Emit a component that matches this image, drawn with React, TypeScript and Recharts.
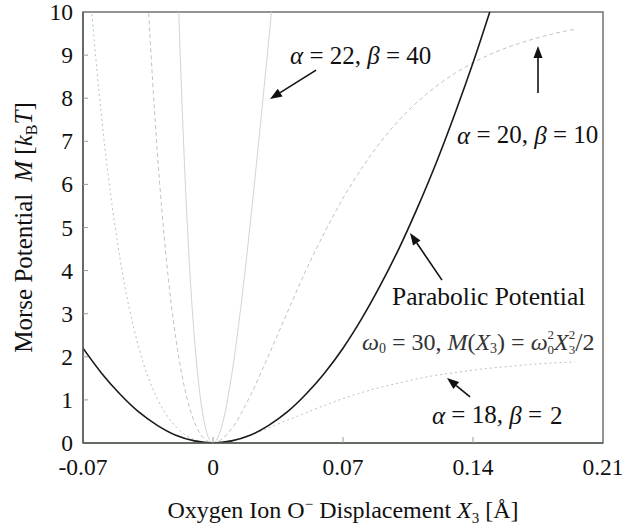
import {
  LineChart,
  Line,
  XAxis,
  YAxis,
  ReferenceArea,
  ReferenceLine,
  ReferenceDot,
} from "recharts";

const SERIF = '"Liberation Serif", "Times New Roman", serif';

const xTicks = [-0.07, 0, 0.07, 0.14, 0.21];
const yTicks = [0, 1, 2, 3, 4, 5, 6, 7, 8, 9, 10];

// parabolic potential, omega0 = 30
const parabolaX = [-0.07, -0.06, -0.05, -0.04, -0.03, -0.02, -0.01, 0, 0.01, 0.02, 0.03, 0.04, 0.05, 0.06, 0.07, 0.08, 0.09, 0.1, 0.11, 0.12, 0.13, 0.14, 0.15];
const parabolaM = [2.2, 1.62, 1.13, 0.72, 0.41, 0.18, 0.05, 0, 0.05, 0.18, 0.41, 0.72, 1.13, 1.62, 2.2, 2.88, 3.65, 4.5, 5.45, 6.48, 7.61, 8.82, 10.13];

// morse alpha = 22, beta = 40
const morse22X = [-0.019, -0.018, -0.015, -0.012, -0.009, -0.006, -0.003, 0, 0.005, 0.01, 0.015, 0.02, 0.025, 0.03, 0.033];
const morse22M = [10.78, 9.44, 6.12, 3.65, 1.92, 0.8, 0.19, 0, 0.43, 1.56, 3.16, 5.07, 7.16, 9.34, 10.66];

// morse alpha = 20, beta = 10
const morse20X = [-0.036, -0.035, -0.03, -0.025, -0.02, -0.015, -0.01, -0.005, 0, 0.01, 0.02, 0.03, 0.04, 0.05, 0.06, 0.07, 0.08, 0.09, 0.1, 0.11, 0.12, 0.13, 0.14, 0.15, 0.16, 0.17, 0.18, 0.19, 0.195];
const morse20M = [11.11, 10.28, 6.76, 4.21, 2.42, 1.22, 0.49, 0.11, 0, 0.33, 1.09, 2.04, 3.03, 4.0, 4.88, 5.68, 6.37, 6.97, 7.48, 7.91, 8.27, 8.57, 8.82, 9.03, 9.2, 9.34, 9.46, 9.56, 9.6];

// morse alpha = 18, beta = 2
const morse18X = [-0.066, -0.065, -0.06, -0.05, -0.04, -0.03, -0.02, -0.01, 0, 0.01, 0.02, 0.03, 0.04, 0.05, 0.06, 0.07, 0.08, 0.09, 0.1, 0.11, 0.12, 0.13, 0.14, 0.15, 0.16, 0.17, 0.18, 0.19, 0.195];
const morse18M = [10.41, 9.87, 7.57, 4.26, 2.22, 1.03, 0.38, 0.08, 0, 0.05, 0.18, 0.35, 0.53, 0.7, 0.87, 1.03, 1.17, 1.29, 1.39, 1.49, 1.57, 1.63, 1.69, 1.74, 1.78, 1.82, 1.85, 1.87, 1.88];

const toRows = (xs: number[], ms: number[]) => xs.map((x, i) => ({ x, m: ms[i] }));

const parabolaData = toRows(parabolaX, parabolaM);
const morse22Data = toRows(morse22X, morse22M);
const morse20Data = toRows(morse20X, morse20M);
const morse18Data = toRows(morse18X, morse18M);

function XTick({ x, y, payload }: any) {
  const v = payload.value;
  const inner = v > -0.07 && v < 0.21;
  return (
    <g>
      {inner && <line x1={x} y1={y} x2={x} y2={y - 6} stroke="#9a9a9a" />}
      <text x={x} y={y + 32} textAnchor="middle" fontSize={23.5} fontFamily={SERIF} fill="#111">
        {String(v)}
      </text>
    </g>
  );
}

function YTick({ x, y, payload }: any) {
  const v = payload.value;
  const inner = v > 0 && v < 10;
  return (
    <g>
      {inner && <line x1={x} y1={y} x2={x + 5} y2={y} stroke="#9a9a9a" />}
      <text x={x - 10} y={y + 8} textAnchor="end" fontSize={23.5} fontFamily={SERIF} fill="#111">
        {String(v)}
      </text>
    </g>
  );
}

function XTitle({ viewBox }: any) {
  const cx = viewBox.x + viewBox.width / 2;
  const y = viewBox.y + 75;
  return (
    <text x={cx} y={y} textAnchor="middle" fontSize={24} fontFamily={SERIF} fill="#111">
      Oxygen Ion O
      <tspan dy={-9} fontSize={15}>−</tspan>
      <tspan dy={9}> Displacement </tspan>
      <tspan fontStyle="italic">X</tspan>
      <tspan dy={5} fontSize={15}>3</tspan>
      <tspan dy={-5}> [Å]</tspan>
    </text>
  );
}

function YTitle({ viewBox }: any) {
  const cx = viewBox.x + 32;
  const cy = viewBox.y + viewBox.height / 2;
  return (
    <text
      x={cx}
      y={cy}
      transform={`rotate(-90, ${cx}, ${cy})`}
      textAnchor="middle"
      fontSize={25}
      fontFamily={SERIF}
      fill="#111"
    >
      Morse Potential
      <tspan dx={12} fontStyle="italic">M</tspan>
      <tspan> [</tspan>
      <tspan fontStyle="italic">k</tspan>
      <tspan dy={5} fontSize={16}>B</tspan>
      <tspan dy={-5} fontStyle="italic">T</tspan>
      <tspan>]</tspan>
    </text>
  );
}

function arrowShape(props: any) {
  const { x1, y1, x2, y2 } = props;
  const dx = x2 - x1;
  const dy = y2 - y1;
  const len = Math.hypot(dx, dy) || 1;
  const ux = dx / len;
  const uy = dy / len;
  const L = 12;
  const W = 4.5;
  const bx = x2 - ux * L;
  const by = y2 - uy * L;
  const pts = `${x2},${y2} ${bx - uy * W},${by + ux * W} ${bx + uy * W},${by - ux * W}`;
  return (
    <g>
      <line x1={x1} y1={y1} x2={bx} y2={by} stroke="#111" strokeWidth={1.6} />
      <polygon points={pts} fill="#111" />
    </g>
  );
}

const textShape = (content: any, size = 25, color = "#111") => (props: any) => (
  <text
    x={props.cx}
    y={props.cy}
    dominantBaseline="central"
    fontSize={size}
    fontFamily={SERIF}
    fill={color}
  >
    {content}
  </text>
);

const label22 = (
  <>
    <tspan fontStyle="italic">α</tspan> = 22, <tspan fontStyle="italic">β</tspan> = 40
  </>
);
const label20 = (
  <>
    <tspan fontStyle="italic">α</tspan> = 20, <tspan fontStyle="italic">β</tspan> = 10
  </>
);
const label18 = (
  <>
    <tspan fontStyle="italic">α</tspan> = 18, <tspan fontStyle="italic">β</tspan> =
    <tspan dx={8}>2</tspan>
  </>
);
const formula = (
  <>
    <tspan fontStyle="italic">ω</tspan>
    <tspan dy={6} fontSize={14}>0</tspan>
    <tspan dy={-6}> = 30, </tspan>
    <tspan fontStyle="italic">M</tspan>
    <tspan>(</tspan>
    <tspan fontStyle="italic">X</tspan>
    <tspan dy={6} fontSize={14}>3</tspan>
    <tspan dy={-6}>) = </tspan>
    <tspan fontStyle="italic">ω</tspan>
    <tspan dy={7} fontSize={13}>0</tspan>
    <tspan dx={-6.5} dy={-15} fontSize={13}>2</tspan>
    <tspan dy={8} fontStyle="italic">X</tspan>
    <tspan dy={7} fontSize={13}>3</tspan>
    <tspan dx={-6.5} dy={-15} fontSize={13}>2</tspan>
    <tspan dy={8} fontSize={26}>/</tspan>
    <tspan>2</tspan>
  </>
);

export default function App() {
  return (
    <div style={{ position: "absolute", left: 0, top: 0, background: "#fff" }}>
      <LineChart width={623} height={530} margin={{ top: 12, right: 20, bottom: 0, left: 0 }}>
        <XAxis
          dataKey="x"
          type="number"
          domain={[-0.07, 0.21]}
          ticks={xTicks}
          interval={0}
          allowDataOverflow
          height={87}
          tickSize={0}
          tickMargin={0}
          tickLine={false}
          axisLine={{ stroke: "#556055", strokeWidth: 1.5 }}
          tick={XTick}
          label={{ content: XTitle }}
        />
        <YAxis
          type="number"
          domain={[0, 10]}
          ticks={yTicks}
          interval={0}
          allowDataOverflow
          width={83}
          tickSize={0}
          tickMargin={0}
          tickLine={false}
          axisLine={{ stroke: "#556055", strokeWidth: 1.5 }}
          tick={YTick}
          label={{ content: YTitle }}
        />
        <ReferenceArea x1={-0.07} x2={0.21} y1={0} y2={10} fill="none" stroke="#707070" strokeWidth={1.5} />
        <Line data={morse22Data} dataKey="m" type="monotone" stroke="#d0d6d0" strokeWidth={1} dot={false} activeDot={false} isAnimationActive={false} />
        <Line data={morse20Data} dataKey="m" type="monotone" stroke="#bcc6bc" strokeWidth={1} strokeDasharray="4 3" dot={false} activeDot={false} isAnimationActive={false} />
        <Line data={morse18Data} dataKey="m" type="monotone" stroke="#b8c4b8" strokeWidth={1} strokeDasharray="2 3" dot={false} activeDot={false} isAnimationActive={false} />
        <Line data={parabolaData} dataKey="m" type="monotone" stroke="#1a1a1a" strokeWidth={1.6} dot={false} activeDot={false} isAnimationActive={false} />

        <ReferenceLine segment={[{ x: 0.0555, y: 8.65 }, { x: 0.0307, y: 7.98 }]} shape={arrowShape} />
        <ReferenceLine segment={[{ x: 0.175, y: 8.12 }, { x: 0.175, y: 9.21 }]} shape={arrowShape} />
        <ReferenceLine segment={[{ x: 0.1233, y: 3.78 }, { x: 0.1061, y: 4.87 }]} shape={arrowShape} />
        <ReferenceLine segment={[{ x: 0.1384, y: 1.07 }, { x: 0.126, y: 1.51 }]} shape={arrowShape} />

        <ReferenceDot x={0.0415} y={9.0} shape={textShape(label22)} />
        <ReferenceDot x={0.1314} y={7.15} shape={textShape(label20)} />
        <ReferenceDot x={0.0964} y={3.39} shape={textShape("Parabolic Potential", 25.5)} />
        <ReferenceDot x={0.0802} y={2.34} shape={textShape(formula, 24, "#333")} />
        <ReferenceDot x={0.1179} y={0.65} shape={textShape(label18)} />
      </LineChart>
    </div>
  );
}
